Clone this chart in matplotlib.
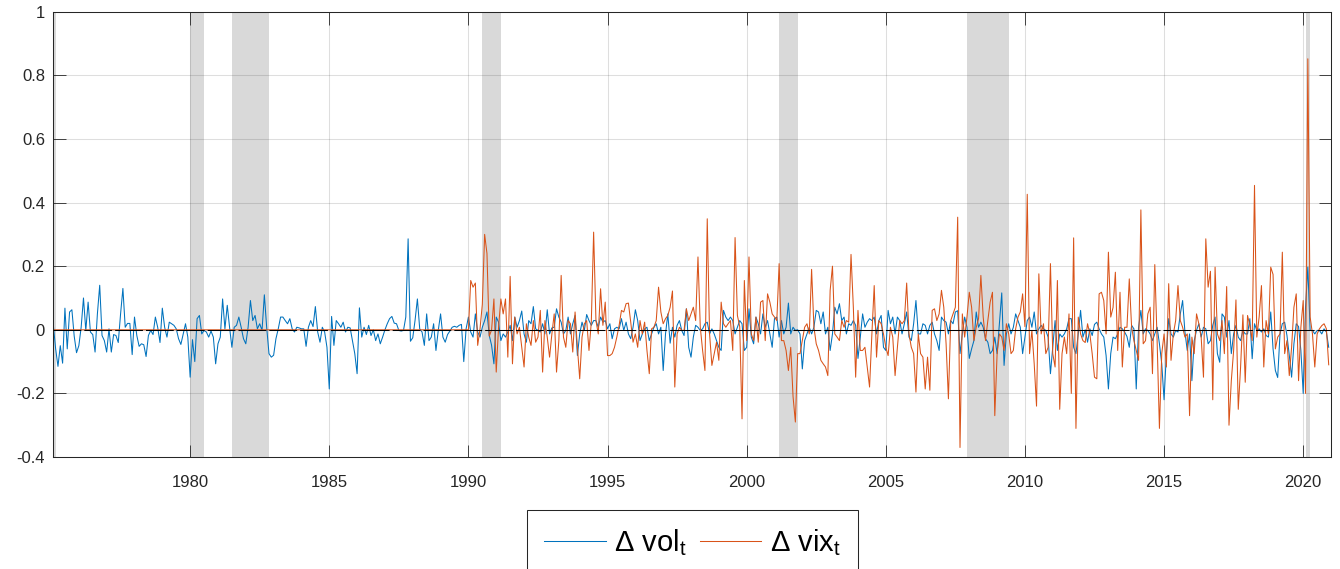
import numpy as np
import matplotlib
matplotlib.use("Agg")
import matplotlib.pyplot as plt

plt.rcParams['font.family'] = ['Liberation Sans', 'DejaVu Sans']
plt.rcParams['mathtext.default'] = 'regular'
plt.rcParams['lines.scale_dashes'] = False

# Monthly change in realised volatility, Feb 1975 - Dec 2020
vol_1975_1979 = [
    0.014, -0.06, -0.115, -0.05, -0.105, 0.068, -0.06, 0.056, 0.063, -0.02,
    -0.072, -0.05, 0.008, 0.10, -0.002, 0.087, -0.007, -0.015, -0.07, 0.05,
    0.14, -0.018, -0.034, -0.07, 0.003, -0.07, -0.015, -0.018, -0.04, 0.05,
    0.13, 0.008, 0.02, 0.02, -0.078, 0.04, -0.018, -0.052, -0.044, -0.047,
    -0.084, -0.018, -0.002, -0.015, 0.04, 0.008, -0.04, 0.068, 0.008, -0.023,
    0.024, 0.019, 0.014, 0.003, -0.028, -0.046, -0.013, 0.019, -0.023,
]
vol_1980s = [
    -0.149, -0.031, -0.10, 0.035, 0.045, -0.013, -0.002, -0.007, -0.023, -0.004,
    -0.023, -0.107, -0.044, -0.023, 0.097, 0.003, 0.077, 0.008, -0.055, 0.008,
    0.014, 0.04, 0.008, -0.028, -0.044, 0.008, 0.092, 0.029, 0.045, 0.003,
    0.019, -0.002, 0.11, 0.008, -0.075, -0.086, -0.08, -0.028, 0.003, 0.04,
    0.04, 0.029, 0.019, 0.035, 0.003, -0.007, 0.008, 0.006, 0.003, 0.003,
    -0.052, 0.008, 0.029, 0.01, 0.073, -0.007, -0.039, 0.008, -0.007, -0.055,
    -0.186, 0.042, -0.049, 0.029, 0.019, 0.008, 0.024, -0.007, 0.008, 0.006,
    -0.034, -0.075, -0.138, 0.069, -0.023, 0.008, -0.015, 0.014, -0.018, 0.0,
    -0.034, -0.013, -0.044, -0.023, 0.0, 0.019, 0.035, 0.042, 0.021, 0.019,
    -0.002, -0.004, -0.002, 0.04, 0.286, -0.036, -0.025, 0.03, 0.097, 0.003,
    -0.007, -0.049, 0.05, -0.034, -0.023, 0.019, -0.065, -0.002, 0.05, -0.023,
    -0.039, -0.015, -0.004, 0.008, 0.011, 0.008, 0.014, 0.017, -0.10, 0.003,
]
vol_1990s = [
    0.04, -0.007, -0.023, 0.05, -0.007, -0.023, 0.008, 0.029, 0.056, -0.018,
    -0.049, -0.107, 0.04, 0.024, -0.034, -0.013, -0.023, -0.007, 0.014, -0.034,
    0.04, 0.008, 0.029, 0.059, -0.013, -0.039, 0.029, 0.019, 0.073, 0.003,
    -0.002, -0.007, 0.019, -0.013, 0.063, -0.013, 0.006, 0.008, 0.066, 0.04,
    0.024, -0.013, -0.002, 0.04, -0.013, 0.019, 0.045, -0.081, -0.013, 0.024,
    -0.002, 0.048, 0.029, 0.014, 0.029, 0.029, 0.008, 0.04, 0.024, 0.029,
    0.003, 0.019, -0.028, 0.003, 0.008, 0.003, 0.035, -0.002, 0.024, -0.013,
    -0.028, 0.008, 0.063, 0.029, -0.034, -0.013, 0.003, 0.008, -0.034, -0.013,
    0.008, 0.019, -0.013, 0.008, -0.128, -0.013, 0.05, -0.042, 0.008, -0.023,
    0.014, 0.029, -0.002, -0.018, 0.066, -0.055, -0.086, -0.023, 0.014, 0.008,
    -0.002, 0.003, 0.019, 0.024, -0.013, 0.003, -0.013, -0.034, -0.055, -0.065,
    0.061, 0.04, 0.029, 0.04, 0.029, -0.013, 0.008, 0.029, 0.019, -0.065,
]
vol_2000s = [
    -0.055, 0.066, -0.023, -0.044, 0.04, 0.019, -0.013, 0.05, 0.008, 0.029,
    -0.013, -0.055, 0.035, 0.04, -0.023, 0.029, -0.013, 0.008, 0.084, -0.013,
    0.008, -0.002, 0.0, -0.013, -0.123, -0.034, -0.013, 0.008, -0.013, 0.008,
    0.061, 0.056, 0.019, 0.056, -0.013, 0.008, -0.065, -0.013, 0.071, 0.05,
    0.082, 0.029, 0.04, -0.013, 0.019, 0.014, 0.029, 0.014, -0.09, -0.023,
    0.05, 0.008, 0.024, 0.035, 0.029, 0.04, -0.013, 0.029, 0.045, -0.055,
    -0.065, 0.061, 0.019, 0.04, -0.013, 0.04, 0.029, -0.013, 0.019, 0.056,
    -0.023, -0.034, 0.019, 0.092, -0.013, -0.013, 0.019, 0.014, -0.013, 0.014,
    0.024, -0.013, -0.034, -0.065, 0.04, 0.029, 0.024, -0.013, 0.029, 0.019,
    0.056, 0.06, -0.075, -0.013, 0.04, 0.008, -0.09, -0.06, -0.034, 0.056,
    0.008, 0.024, 0.008, -0.028, -0.039, -0.075, -0.065, -0.023, -0.075, 0.019,
    0.116, -0.112, -0.013, 0.019, -0.013, 0.008, 0.05, 0.029, 0.008, -0.075,
]
vol_2010s = [
    -0.023, 0.029, 0.04, 0.008, 0.056, -0.013, 0.003, 0.014, 0.003, -0.002,
    -0.023, -0.138, -0.055, 0.029, -0.065, -0.013, -0.023, -0.013, 0.003, 0.035,
    0.035, -0.055, -0.075, -0.013, 0.061, -0.023, 0.0, -0.039, 0.003, -0.018,
    0.017, 0.024, 0.003, -0.013, -0.023, -0.081, -0.186, -0.075, -0.023, -0.028,
    -0.013, 0.008, 0.003, -0.007, -0.021, -0.055, 0.014, 0.003, -0.186, 0.008,
    0.061, -0.013, 0.003, -0.002, -0.013, -0.034, -0.013, 0.008, -0.044, -0.107,
    -0.22, -0.075, 0.035, -0.013, -0.023, -0.002, -0.007, 0.05, 0.092, -0.007,
    -0.065, -0.013, -0.16, -0.034, -0.002, 0.019, -0.023, 0.008, 0.003, -0.044,
    -0.034, 0.014, 0.04, -0.075, -0.102, 0.05, 0.04, -0.023, 0.029, -0.075,
    -0.013, 0.014, -0.023, -0.034, -0.002, -0.013, -0.013, 0.035, -0.091, 0.019,
    -0.002, 0.003, -0.007, 0.003, -0.018, -0.023, 0.056, -0.06, -0.128, -0.15,
    -0.013, 0.019, 0.024, -0.018, -0.08, -0.149, -0.044, 0.019, 0.01, -0.065,
]
vol_2020 = [-0.2, 0.071, 0.197, -0.002, -0.002, -0.013, -0.002, -0.002, -0.013, 0.003, -0.007, -0.055]

# Monthly change in the VIX, Feb 1990 - Dec 2020
vix_1990s = [
    0.155, 0.134, 0.147, -0.049, 0.003, 0.08, 0.30, 0.24, -0.02, 0.0,
    0.097, -0.133, 0.008, 0.097, 0.05, 0.097, -0.086, 0.168, -0.107, 0.04,
    -0.013, 0.008, -0.055, -0.117, 0.019, -0.023, -0.049, 0.029, -0.039, -0.023,
    0.061, -0.133, 0.029, -0.023, -0.086, -0.013, 0.05, -0.133, -0.034, 0.171,
    -0.023, -0.055, 0.029, 0.019, -0.07, 0.056, -0.055, -0.154, -0.023, 0.019,
    0.029, -0.065, 0.024, 0.307, 0.029, -0.013, 0.129, 0.014, 0.087, -0.081,
    -0.081, -0.075, -0.055, -0.023, 0.014, 0.061, 0.056, 0.082, 0.084, 0.024,
    -0.039, -0.013, -0.055, 0.029, -0.013, 0.024, -0.065, -0.138, 0.003, 0.008,
    0.029, 0.134, 0.056, 0.019, 0.035, 0.045, 0.071, 0.122, -0.18, -0.013,
    0.008, -0.002, -0.002, 0.066, 0.029, 0.05, 0.071, 0.029, 0.229, 0.008,
    -0.065, -0.128, 0.349, -0.013, -0.112, -0.075, -0.039, -0.096, 0.087, 0.019,
    0.008, 0.019, 0.029, -0.065, 0.29, 0.045, 0.01, -0.28, 0.155,
]
vix_2000s = [
    -0.034, 0.229, -0.013, -0.034, 0.04, -0.039, 0.087, 0.092, -0.034, 0.113,
    0.087, 0.05, 0.04, 0.029, 0.208, -0.034, -0.034, -0.065, -0.128, -0.055,
    -0.21, -0.29, -0.075, -0.075, -0.034, 0.008, 0.019, -0.013, 0.19, 0.008,
    -0.044, -0.065, -0.096, -0.107, -0.117, -0.144, 0.124, 0.20, -0.013, -0.023,
    -0.034, 0.029, 0.008, 0.029, 0.024, 0.237, 0.071, -0.149, 0.061, -0.065,
    -0.065, -0.055, -0.117, -0.18, -0.013, 0.139, -0.086, 0.029, 0.019, -0.013,
    -0.055, -0.081, 0.008, -0.023, -0.144, -0.055, 0.029, 0.019, 0.029, 0.147,
    -0.013, -0.055, -0.075, -0.196, -0.013, -0.075, -0.086, -0.186, -0.086, -0.19,
    0.061, 0.066, 0.029, 0.05, 0.124, 0.071, -0.044, -0.217, 0.029, 0.05,
    0.071, 0.354, -0.37, 0.05, -0.023, 0.04, 0.118, 0.071, -0.034, 0.008,
    0.035, 0.171, 0.04, -0.034, 0.029, 0.087, 0.118, -0.27, -0.075, -0.013,
    -0.023, -0.065, 0.019, -0.013, -0.075, -0.065, 0.003, 0.04, 0.056, 0.113,
]
vix_2010s = [
    0.01, 0.426, -0.075, -0.002, -0.107, -0.24, 0.176, -0.013, 0.019, -0.075,
    -0.055, 0.208, -0.075, -0.117, 0.155, -0.25, -0.075, -0.023, -0.075, 0.05,
    -0.2, 0.289, -0.31, 0.04, -0.013, -0.034, -0.04, 0.019, -0.013, -0.075,
    -0.149, -0.154, 0.113, 0.118, 0.092, -0.013, 0.244, 0.04, 0.07, 0.181,
    -0.065, 0.118, -0.117, 0.008, 0.008, 0.16, 0.008, -0.034, -0.065, -0.096,
    0.377, -0.044, -0.034, 0.05, 0.071, -0.138, 0.205, -0.034, -0.31, -0.075,
    -0.013, -0.117, 0.145, -0.096, -0.013, 0.029, 0.139, 0.029, 0.008, -0.023,
    -0.013, -0.27, -0.023, -0.075, 0.05, 0.019, -0.023, -0.149, 0.286, 0.134,
    0.184, -0.22, 0.197, -0.013, -0.034, 0.029, -0.075, 0.136, -0.30, -0.16,
    -0.065, 0.094, -0.25, -0.117, 0.047, -0.165, 0.045, 0.013, -0.034, 0.454,
    -0.023, 0.04, 0.139, -0.117, 0.029, -0.013, 0.197, 0.174, -0.06, -0.023,
    -0.013, 0.244, -0.075, -0.034, -0.144, -0.055, 0.071, 0.113, -0.16, 0.008,
]
vix_2020 = [0.092, -0.2, 0.852, 0.04, -0.013, -0.117, -0.013, 0.003, 0.013, 0.019, 0.003, -0.11]

# NBER recessions (decimal years, start and end month)
recession_start = [1973.833, 1980.0, 1981.5, 1990.5, 2001.167, 2007.917, 2020.083]
recession_end = [1975.167, 1980.5, 1982.833, 1991.167, 2001.833, 2009.417, 2020.25]

year_ticks = [1980, 1985, 1990, 1995, 2000, 2005, 2010, 2015, 2020]
value_ticks = [-0.4, -0.2, 0, 0.2, 0.4, 0.6, 0.8, 1]
value_labels = ['-0.4', '-0.2', '0', '0.2', '0.4', '0.6', '0.8', '1']

vol = np.concatenate([vol_1975_1979, vol_1980s, vol_1990s, vol_2000s, vol_2010s, vol_2020])
vix_obs = np.concatenate([vix_1990s, vix_2000s, vix_2010s, vix_2020])
n = len(vol)
t = 1975 + (np.arange(n) + 1) / 12.0
vix = np.zeros(n)
vix[n - len(vix_obs):] = vix_obs

dark = '#262626'
fig = plt.figure(figsize=(13.4, 5.69), dpi=100)
ax = fig.add_axes([0.0398, 0.1968, 0.9535, 0.7826])

for a, b in zip(recession_start, recession_end):
    ax.axvspan(a, b, facecolor=(0.85, 0.85, 0.85), edgecolor='none', zorder=1)

h_vol, = ax.plot(t, vol, color='#0072BD', lw=0.75, zorder=2)
h_vix, = ax.plot(t, vix, color='#D95319', lw=0.75, zorder=2.1)
ax.axhline(0, color='black', lw=0.75, dashes=(20, 2.2), zorder=3)

ax.set_xlim(1975 + 1 / 12, 2021)
ax.set_ylim(-0.4, 1)
ax.set_xticks(year_ticks)
ax.set_xticklabels([str(y) for y in year_ticks])
ax.set_yticks(value_ticks)
ax.set_yticklabels(value_labels)
ax.grid(True, color=(0.15, 0.15, 0.15), alpha=0.15, lw=0.75)
ax.tick_params(direction='in', length=9, width=0.6, top=True, right=True,
               color=dark, labelcolor=dark, labelsize=12)
ax.tick_params(axis='x', pad=13)
ax.tick_params(axis='y', pad=6)
for s in ax.spines.values():
    s.set_color(dark)
    s.set_linewidth(0.75)

leg = fig.legend([h_vol, h_vix], ['Δ vol$_t$', 'Δ vix$_t$'],
                 loc='upper center', bbox_to_anchor=(0.5168, 0.1037), ncol=2,
                 fontsize=21, frameon=True, fancybox=False, framealpha=1,
                 edgecolor=dark, handlelength=2.1, handletextpad=0.3,
                 columnspacing=0.45, borderpad=0.6, borderaxespad=0)
leg.get_frame().set_linewidth(0.75)

fig.savefig('out.png', dpi=100)
